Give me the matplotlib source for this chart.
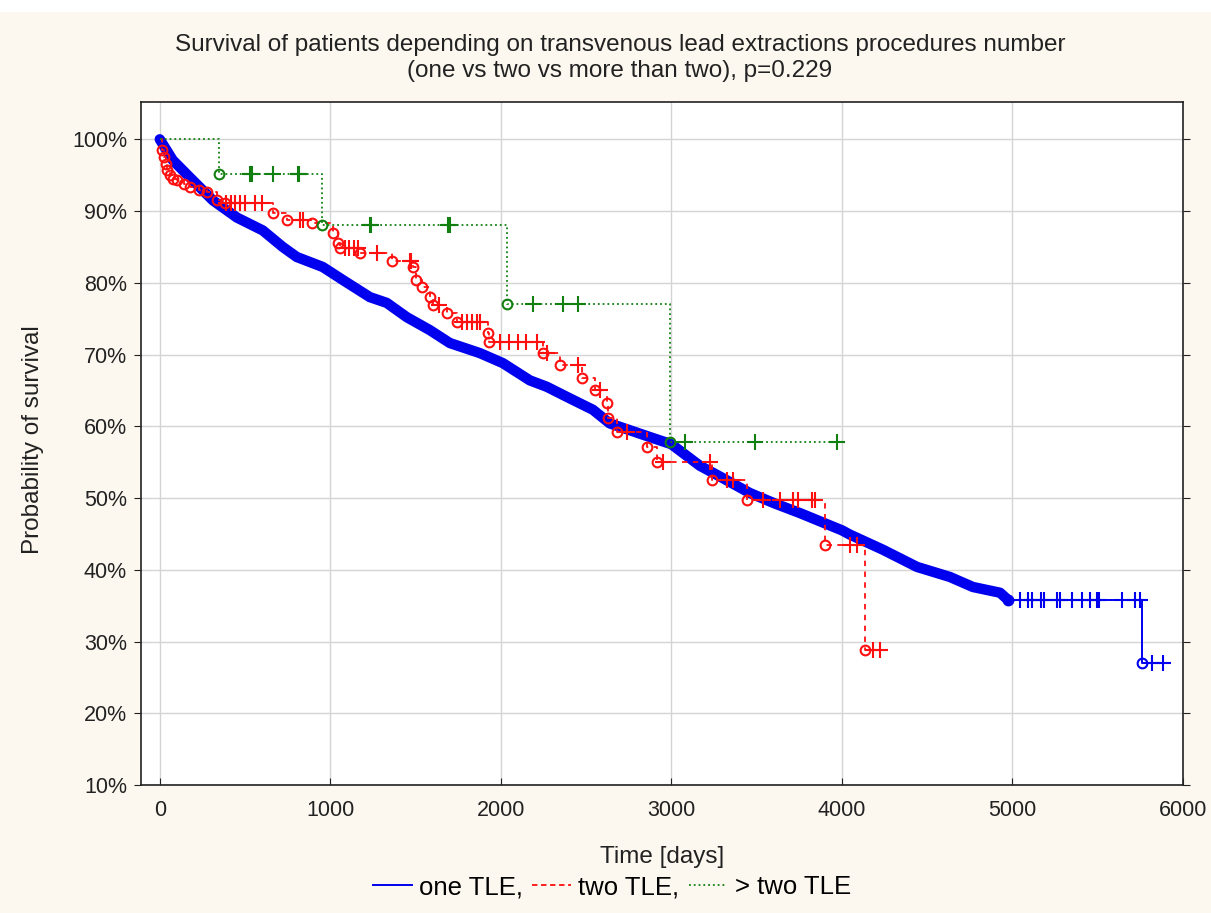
import numpy as np
import matplotlib
matplotlib.use("Agg")
import matplotlib.pyplot as plt
from matplotlib.lines import Line2D
from matplotlib.patches import Rectangle
from matplotlib.ticker import PercentFormatter

plt.rcParams["font.family"] = ["Liberation Sans", "DejaVu Sans"]

# one TLE: dense part of the curve (read along the band centre)
one_x = [0, 76, 176, 311, 452, 604, 721, 803, 956, 1073, 1232, 1331, 1449, 1584,
         1701, 1877, 2012, 2170, 2270, 2387, 2540, 2639, 2874, 3000, 3167, 3300,
         3460, 3600, 3754, 4000, 4047, 4240, 4440, 4633, 4768, 4927, 4974]
one_y = [1.0, 0.971, 0.947, 0.915, 0.891, 0.873, 0.850, 0.836, 0.822, 0.804, 0.780,
         0.772, 0.752, 0.734, 0.716, 0.702, 0.688, 0.664, 0.655, 0.641, 0.623, 0.604,
         0.585, 0.575, 0.545, 0.528, 0.507, 0.493, 0.479, 0.455, 0.449, 0.428, 0.404,
         0.390, 0.376, 0.368, 0.358]
# one TLE: tail (events / censored)
one_tail_ev_x = [4974, 5760]
one_tail_ev_y = [0.358, 0.270]
one_tail_cens = [5044, 5091, 5115, 5170, 5185, 5262, 5279, 5349, 5408, 5455,
                 5495, 5510, 5642, 5718, 5748, 5818, 5883]

# two TLE
two_ev_x = [15, 25, 35, 45, 60, 80, 100, 140, 176, 230, 276, 334, 380, 663, 745,
            890, 1015, 1044, 1056, 1173, 1361, 1484, 1500, 1537, 1584, 1601, 1683,
            1742, 1924, 1930, 2246, 2346, 2475, 2551, 2622, 2630, 2680, 2856, 2915,
            3237, 3443, 3900, 4135]
two_ev_y = [0.985, 0.975, 0.965, 0.957, 0.950, 0.945, 0.943, 0.938, 0.933, 0.930,
            0.926, 0.915, 0.911, 0.897, 0.887, 0.883, 0.869, 0.855, 0.848, 0.841,
            0.831, 0.822, 0.804, 0.794, 0.780, 0.769, 0.758, 0.745, 0.730, 0.717,
            0.702, 0.685, 0.667, 0.650, 0.632, 0.611, 0.592, 0.571, 0.550, 0.525,
            0.497, 0.434, 0.288]
two_cens = [390, 420, 440, 470, 500, 560, 600, 820, 840, 1085, 1110, 1140, 1165,
            1273, 1466, 1475, 1640, 1771, 1800, 1830, 1860, 1880, 1994, 2050, 2100,
            2150, 2211, 2270, 2452, 2580, 2740, 2950, 3226, 3325, 3360, 3537, 3636,
            3713, 3742, 3824, 3842, 4047, 4088, 4182, 4223]

# more than two TLE
more_ev_x = [346, 950, 2035, 2991]
more_ev_y = [0.952, 0.880, 0.770, 0.578]
more_cens = [528, 540, 663, 809, 815, 1232, 1240, 1689, 1700, 2188, 2364, 2452,
             3079, 3490, 3971]

title_lines = ["Survival of patients depending on transvenous lead extractions procedures number",
               "(one vs two vs more than two), p=0.229"]
legend_labels = ["one TLE,", "two TLE,", "> two TLE"]


def level_at(ev_x, ev_y, xs):
    ev_x = np.asarray(ev_x)
    ev_y = np.asarray(ev_y)
    idx = np.searchsorted(ev_x, xs, side="right") - 1
    return np.where(idx < 0, 1.0, ev_y[np.clip(idx, 0, None)])


def step_path(ev_x, ev_y, x_end, y0=1.0):
    sx = [0]
    sy = [y0]
    for x, y in zip(ev_x, ev_y):
        sx += [x, x]
        sy += [sy[-1], y]
    sx.append(x_end)
    sy.append(sy[-1])
    return sx, sy


BLUE = "#0000ee"
RED = "#ff1010"
GREEN = "#118011"
TXT = "#222222"

fig = plt.figure(figsize=(12.11, 9.13), dpi=100, facecolor="#fcf8ef")
fig.patches.append(Rectangle((0, 1 - 12 / 913), 1, 12 / 913, transform=fig.transFigure,
                             facecolor="white", edgecolor="none", zorder=0))
ax = fig.add_axes([141 / 1211, 1 - 785 / 913, (1183 - 141) / 1211, (785 - 102) / 913])
ax.set_facecolor("white")

# one TLE
ax.plot(one_x, one_y, "-", color=BLUE, lw=7.5, solid_capstyle="round", zorder=2)
tx, ty = step_path(one_tail_ev_x, one_tail_ev_y, 5883, y0=one_y[-1])
tx[0] = one_tail_ev_x[0]
ax.plot(tx, ty, "-", color=BLUE, lw=1.4, zorder=2)
ax.plot(one_tail_ev_x, one_tail_ev_y, "o", mfc="none", mec=BLUE, ms=7, mew=1.5, zorder=2)
ax.plot(one_tail_cens, level_at(one_tail_ev_x, one_tail_ev_y, one_tail_cens), "+",
        color=BLUE, ms=11, mew=1.5, zorder=2)

# two TLE
sx, sy = step_path(two_ev_x, two_ev_y, 4223)
ax.plot(sx, sy, "--", color=RED, lw=1.3, dashes=(3, 3), zorder=3)
ax.plot(two_ev_x, two_ev_y, "o", mfc="none", mec=RED, ms=7, mew=1.5, zorder=3)
ax.plot(two_cens, level_at(two_ev_x, two_ev_y, two_cens), "+", color=RED,
        ms=11, mew=1.5, zorder=3)

# more than two TLE
sx, sy = step_path(more_ev_x, more_ev_y, 3971)
ax.plot(sx, sy, ":", color=GREEN, lw=1.3, zorder=4)
ax.plot(more_ev_x, more_ev_y, "o", mfc="none", mec=GREEN, ms=7, mew=1.5, zorder=4)
ax.plot(more_cens, level_at(more_ev_x, more_ev_y, more_cens), "+", color=GREEN,
        ms=11, mew=1.5, zorder=4)

ax.set_xlim(-110, 6000)
ax.set_ylim(0.10, 1.052)
ax.set_xticks(np.arange(0, 6001, 1000))
ax.set_yticks(np.arange(0.1, 1.001, 0.1))
ax.yaxis.set_major_formatter(PercentFormatter(1.0, decimals=0))
ax.grid(True, color="#d4d4d4", lw=1)
ax.set_axisbelow(True)
for s in ax.spines.values():
    s.set_color(TXT)
    s.set_linewidth(1.2)
ax.tick_params(axis="x", direction="in", length=5, labelsize=15.5, pad=11, colors=TXT)
ax.tick_params(axis="y", direction="out", length=5, labelsize=15.5, pad=5, colors=TXT,
               right=True)

fig.text(0.512, 1 - 45 / 913, title_lines[0], ha="center", va="center", fontsize=17.5,
         color=TXT)
fig.text(0.512, 1 - 71 / 913, title_lines[1], ha="center", va="center", fontsize=17.5,
         color=TXT)
fig.text(662 / 1211, 1 - 857 / 913, "Time [days]", ha="center", va="center",
         fontsize=17.5, color=TXT)
fig.text(33 / 1211, 1 - 440 / 913, "Probability of survival", ha="center", va="center",
         rotation=90, fontsize=17.5, color=TXT)

handles = [Line2D([], [], color=BLUE, lw=1.4),
           Line2D([], [], color=RED, lw=1.3, ls="--", dashes=(3, 2)),
           Line2D([], [], color=GREEN, lw=1.3, ls=":")]
fig.legend(handles, legend_labels, loc="center",
           bbox_to_anchor=(612 / 1211, 1 - 887 / 913), ncol=3, frameon=False,
           fontsize=18.5, handlelength=1.5, handletextpad=0.3, columnspacing=0.35)

fig.savefig("out.png", dpi=100, facecolor=fig.get_facecolor())
